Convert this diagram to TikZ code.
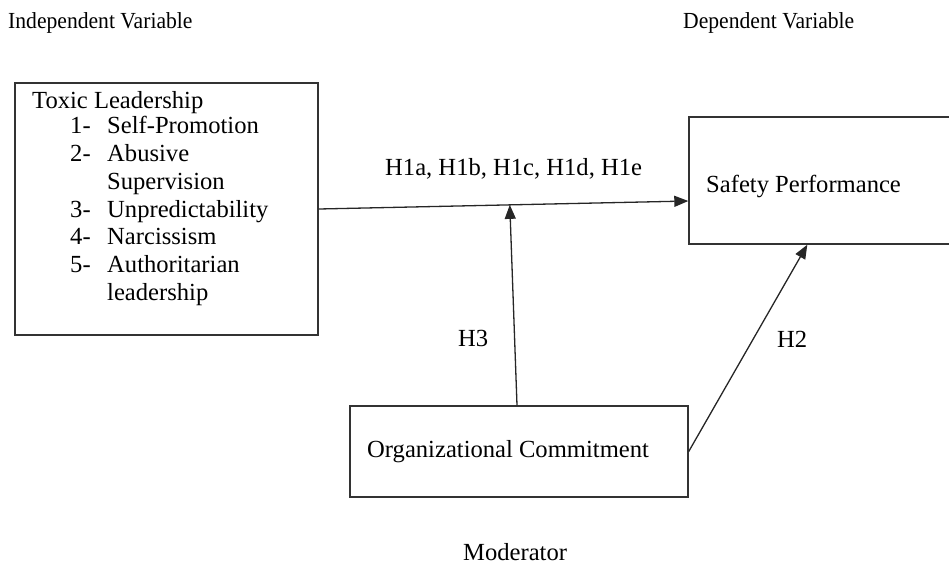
\documentclass[tikz,border=0pt]{standalone}
\usepackage{fontspec}
\setmainfont{Liberation Serif}
\newfontfamily\hdrfont{Liberation Serif}[FakeStretch=0.94]
\usetikzlibrary{arrows.meta,calc}
\begin{document}
\begin{tikzpicture}[x=1pt,y=-1pt,
  box/.style={draw=black!80,line width=1.4pt,inner sep=0},
  txt/.style={anchor=base west,inner sep=0,font=\fontsize{24.6}{28}\selectfont},
  hdr/.style={anchor=base west,inner sep=0,font=\hdrfont\fontsize{23}{26}\selectfont},
  conn/.style={draw=black!85,line width=1.3pt,-{Triangle[length=14pt,width=11pt]}}]
\useasboundingbox (0,0) rectangle (949,566);
\clip (0,0) rectangle (949,566);
% boxes
\node[box,minimum width=303pt,minimum height=252pt] (tox) at (166.5,209) {};
\node[box,minimum width=263pt,minimum height=127pt] (sp) at (820.5,180.5) {};
\node[box,minimum width=338pt,minimum height=91pt] (org) at (519,451.5) {};
% headers
\node[hdr] (hi) at (8,28) {Independent Variable};
\node[hdr] (hd) at (683,28) {Dependent Variable};
\node[txt] (mod) at (463,560) {Moderator};
% box texts
\node[txt] (t0) at (32,108) {Toxic Leadership};
\node[txt] (n1) at (70,133) {1-};
\node[txt] (l1) at (107,133) {Self-Promotion};
\node[txt] (n2) at (70,161) {2-};
\node[txt] (l2) at (107,161) {Abusive};
\node[txt] (l2b) at (107,189) {Supervision};
\node[txt] (n3) at (70,217) {3-};
\node[txt] (l3) at (107,217) {Unpredictability};
\node[txt] (n4) at (70,244) {4-};
\node[txt] (l4) at (107,244) {Narcissism};
\node[txt] (n5) at (70,272) {5-};
\node[txt] (l5) at (107,272) {Authoritarian};
\node[txt] (l5b) at (107,300) {leadership};
\node[txt] (spt) at (706,192) {Safety Performance};
\node[txt] (orgt) at (367,457) {Organizational Commitment};
% labels
\node[txt] (h1) at (385,175) {H1a, H1b, H1c, H1d, H1e};
\node[txt] (h3) at (458,346) {H3};
\node[txt] (h2) at (777,347) {H2};
% connectors
\coordinate (spin) at ($(sp.west)+(0,20.5)$);
\coordinate (mid) at ($(tox.east)!0.517!(spin)$);
\draw[conn] (tox.east) -- (spin);
\draw[conn] ($(org.north)+(-2,0)$) -- (mid);
\draw[conn] (org.east) -- ($(sp.south west)+(119,0)$);
\end{tikzpicture}
\end{document}
